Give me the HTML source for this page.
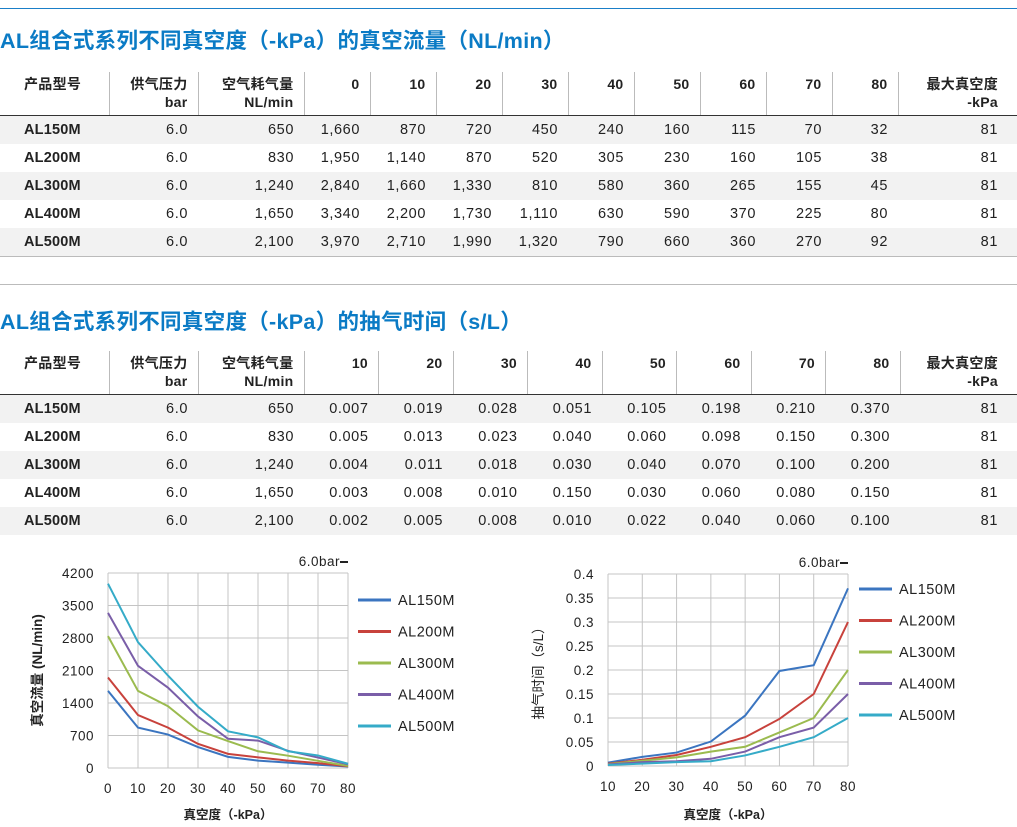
<!DOCTYPE html>
<html><head><meta charset="utf-8">
<style>
body{margin:0;width:1017px;height:827px;background:#fff;font-family:"Liberation Sans","Noto Sans CJK SC",sans-serif;color:#222;position:relative;overflow:hidden}
.topline{position:absolute;left:0;top:8px;width:1017px;height:1px;background:#1a7fc8}
.sep{position:absolute;left:0;top:284px;width:1017px;height:1px;background:#bbb}
.title{position:absolute;left:0;font-size:21.5px;font-weight:bold;color:#0b7bc5;white-space:nowrap;letter-spacing:0.3px}
table{position:absolute;left:0;border-collapse:collapse;font-size:14.5px;table-layout:fixed;width:1017px;letter-spacing:0.6px}
th{font-weight:bold;text-align:right;vertical-align:top;padding:3px 10px 0 0;line-height:18px;border-left:1px solid #bbb;height:40px;border-bottom:1.5px solid #333;font-size:14px;letter-spacing:0.3px}
th:first-child{border-left:none;text-align:left;padding-left:24px}
td{text-align:right;padding:0 10px 0 0;height:28px;line-height:28px}
td:first-child{text-align:left;padding-left:24px;font-weight:bold;letter-spacing:0.2px}
tr.g td{background:#f2f2f2}
.bot td{border-bottom:1px solid #bbb}
svg text{font-family:"Liberation Sans","Noto Sans CJK SC",sans-serif}
</style></head><body>
<div class="topline"></div>
<div class="title" style="top:24px">AL组合式系列不同真空度（-kPa）的真空流量（NL/min）</div>
<table style="top:72px">
<colgroup><col style="width:109px"><col style="width:89px"><col style="width:106px"><col span="9" style="width:66px"><col style="width:119px"></colgroup>
<tr><th>产品型号</th><th>供气压力<br>bar</th><th>空气耗气量<br>NL/min</th><th>0</th><th>10</th><th>20</th><th>30</th><th>40</th><th>50</th><th>60</th><th>70</th><th>80</th><th style="padding-right:19px">最大真空度<br>-kPa</th></tr>
<tr class="g"><td>AL150M</td><td>6.0</td><td>650</td><td>1,660</td><td>870</td><td>720</td><td>450</td><td>240</td><td>160</td><td>115</td><td>70</td><td>32</td><td style="padding-right:19px">81</td></tr>
<tr><td>AL200M</td><td>6.0</td><td>830</td><td>1,950</td><td>1,140</td><td>870</td><td>520</td><td>305</td><td>230</td><td>160</td><td>105</td><td>38</td><td style="padding-right:19px">81</td></tr>
<tr class="g"><td>AL300M</td><td>6.0</td><td>1,240</td><td>2,840</td><td>1,660</td><td>1,330</td><td>810</td><td>580</td><td>360</td><td>265</td><td>155</td><td>45</td><td style="padding-right:19px">81</td></tr>
<tr><td>AL400M</td><td>6.0</td><td>1,650</td><td>3,340</td><td>2,200</td><td>1,730</td><td>1,110</td><td>630</td><td>590</td><td>370</td><td>225</td><td>80</td><td style="padding-right:19px">81</td></tr>
<tr class="g bot"><td>AL500M</td><td>6.0</td><td>2,100</td><td>3,970</td><td>2,710</td><td>1,990</td><td>1,320</td><td>790</td><td>660</td><td>360</td><td>270</td><td>92</td><td style="padding-right:19px">81</td></tr>
</table>
<div class="sep"></div>
<div class="title" style="top:305px">AL组合式系列不同真空度（-kPa）的抽气时间（s/L）</div>
<table style="top:351px">
<colgroup><col style="width:109px"><col style="width:89px"><col style="width:106px"><col span="8" style="width:74.5px"><col style="width:117px"></colgroup>
<tr><th>产品型号</th><th>供气压力<br>bar</th><th>空气耗气量<br>NL/min</th><th>10</th><th>20</th><th>30</th><th>40</th><th>50</th><th>60</th><th>70</th><th>80</th><th style="padding-right:19px">最大真空度<br>-kPa</th></tr>
<tr class="g"><td>AL150M</td><td>6.0</td><td>650</td><td>0.007</td><td>0.019</td><td>0.028</td><td>0.051</td><td>0.105</td><td>0.198</td><td>0.210</td><td>0.370</td><td style="padding-right:19px">81</td></tr>
<tr><td>AL200M</td><td>6.0</td><td>830</td><td>0.005</td><td>0.013</td><td>0.023</td><td>0.040</td><td>0.060</td><td>0.098</td><td>0.150</td><td>0.300</td><td style="padding-right:19px">81</td></tr>
<tr class="g"><td>AL300M</td><td>6.0</td><td>1,240</td><td>0.004</td><td>0.011</td><td>0.018</td><td>0.030</td><td>0.040</td><td>0.070</td><td>0.100</td><td>0.200</td><td style="padding-right:19px">81</td></tr>
<tr><td>AL400M</td><td>6.0</td><td>1,650</td><td>0.003</td><td>0.008</td><td>0.010</td><td>0.150</td><td>0.030</td><td>0.060</td><td>0.080</td><td>0.150</td><td style="padding-right:19px">81</td></tr>
<tr class="g"><td>AL500M</td><td>6.0</td><td>2,100</td><td>0.002</td><td>0.005</td><td>0.008</td><td>0.010</td><td>0.022</td><td>0.040</td><td>0.060</td><td>0.100</td><td style="padding-right:19px">81</td></tr>
</table>
<svg id="c" width="1017" height="827" style="position:absolute;left:0;top:0"></svg>
<script>
const seriesNames=["AL150M","AL200M","AL300M","AL400M","AL500M"];
const colors=["#3b75c0","#c8423c","#9bbb4f","#7a5ea8","#35abc8"];
const flowX=[0,10,20,30,40,50,60,70,80];
const flowA=[1660,870,720,450,240,160,115,70,32];
const flowB=[1950,1140,870,520,305,230,160,105,38];
const flowC=[2840,1660,1330,810,580,360,265,155,45];
const flowD=[3340,2200,1730,1110,630,590,370,225,80];
const flowE=[3970,2710,1990,1320,790,660,360,270,92];
const flowTicks=[0,700,1400,2100,2800,3500,4200];
const timeX=[10,20,30,40,50,60,70,80];
const timeA=[0.007,0.019,0.028,0.051,0.105,0.198,0.210,0.370];
const timeB=[0.005,0.013,0.023,0.040,0.060,0.098,0.150,0.300];
const timeC=[0.004,0.011,0.018,0.030,0.040,0.070,0.100,0.200];
const timeD=[0.003,0.008,0.010,0.015,0.030,0.060,0.080,0.150];
const timeE=[0.002,0.005,0.008,0.010,0.022,0.040,0.060,0.100];
const timeTicks=[0,0.05,0.1,0.15,0.2,0.25,0.3,0.35,0.4];
const NS="http://www.w3.org/2000/svg";
const svg=document.getElementById('c');
function mk(t,a,txt){const e=document.createElementNS(NS,t);for(const k in a)e.setAttribute(k,a[k]);if(txt!=null)e.textContent=txt;svg.appendChild(e);return e;}
function chart(o){
  const sx=v=>o.x0+(v-o.xs[0])/(o.xs[o.xs.length-1]-o.xs[0])*(o.x1-o.x0);
  const sy=v=>o.y1-(v-o.ymin)/(o.ymax-o.ymin)*(o.y1-o.y0);
  o.xs.forEach(v=>{const l=mk('line',{x1:sx(v),x2:sx(v),y1:o.y0,y2:o.y1,stroke:'#c4c4c4','stroke-width':1});
    
    
    const t=mk('text',{x:sx(v),y:o.y1+25,'text-anchor':'middle','font-size':13.5,fill:'#222','letter-spacing':0.5},String(v));
    
    });
  o.ticks.forEach(v=>{const l=mk('line',{x1:o.x0,x2:o.x1,y1:sy(v),y2:sy(v),stroke:'#c4c4c4','stroke-width':1});
    
    
    const t=mk('text',{x:o.x0-14,y:sy(v)+5,'text-anchor':'end','font-size':13.5,fill:'#222','letter-spacing':0.5},String(v));
    
    });
  o.series.forEach((s,i)=>{
    const p=mk('polyline',{points:s.map((v,j)=>sx(o.xs[j])+','+sy(v)).join(' '),fill:'none',stroke:colors[i],'stroke-width':2});
    
    
    const ly=o.legY+i*o.legDy;
    const ll=mk('line',{x1:o.legX,x2:o.legX+33,y1:ly,y2:ly,stroke:colors[i],'stroke-width':3});
    
    
    const lt=mk('text',{x:o.legX+40,y:ly+5,'font-size':14.5,fill:'#222','letter-spacing':0.5},seriesNames[i]);
    
    
  });
  const b=mk('text',{x:o.x1-8,y:o.y0-7,'text-anchor':'end','font-size':13.5,fill:'#222','letter-spacing':0.5},'6.0bar');
  
  
  const bl=mk('line',{x1:o.x1-8,x2:o.x1,y1:o.y0-11,y2:o.y0-11,stroke:'#222','stroke-width':2});
  
  
  const xt=mk('text',{x:(o.x0+o.x1)/2,y:819,'text-anchor':'middle','font-size':12.5,'font-weight':'bold',fill:'#222'},'真空度（-kPa）');
  
  
  const yt=mk('text',{x:0,y:0,'text-anchor':'middle','font-size':13.5,'font-weight':o.ybold?'bold':'normal',fill:'#222',transform:`translate(${o.ytx},${(o.y0+o.y1)/2}) rotate(-90)`},o.ytitle);
  
  
}
chart({x0:108,x1:348,y0:573,y1:768,xs:flowX,ymin:0,ymax:4200,ticks:flowTicks,series:[flowA,flowB,flowC,flowD,flowE],legX:358,legY:600,legDy:31.5,ytitle:'真空流量 (NL/min)',ytx:42,ybold:true});
chart({x0:608,x1:848,y0:574,y1:766,xs:timeX,ymin:0,ymax:0.4,ticks:timeTicks,series:[timeA,timeB,timeC,timeD,timeE],legX:859,legY:589,legDy:31.5,ytitle:'抽气时间（s/L）',ytx:543,ybold:false});
</script>
</body></html>
